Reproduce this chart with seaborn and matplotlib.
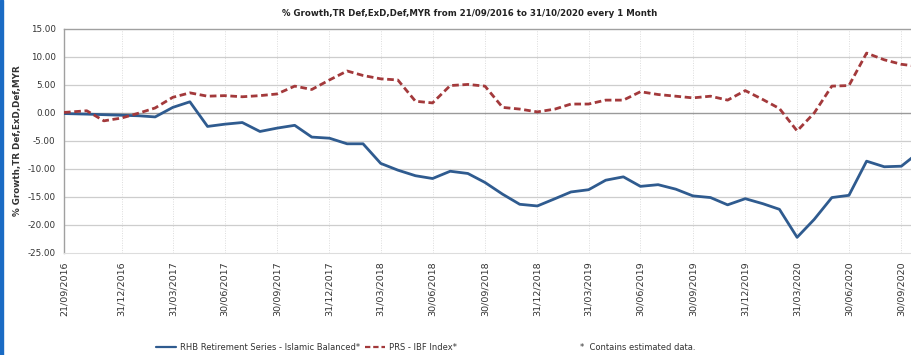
import numpy as np
import pandas as pd
import matplotlib
matplotlib.use("Agg")
import matplotlib.pyplot as plt
from matplotlib.lines import Line2D
from matplotlib.patches import Rectangle
from matplotlib.ticker import MultipleLocator
import seaborn as sns

# ---------------- data ----------------
start_date = "2016-09-21"
end_date = "2020-10-31"
dates = [pd.Timestamp(start_date)] + list(pd.date_range("2016-10-31", end_date, freq="ME"))

rhb_name = "RHB Retirement Series - Islamic Balanced*"
prs_name = "PRS - IBF Index*"

rhb = [-0.1, -0.2, -0.3, -0.4, -0.5, -0.7, 1.0, 2.0, -2.4, -2.0,
       -1.7, -3.3, -2.7, -2.2, -4.3, -4.5, -5.5, -5.5, -9.0, -10.2,
       -11.2, -11.7, -10.4, -10.8, -12.4, -14.5, -16.3, -16.6, -15.3, -14.1,
       -13.7, -12.0, -11.4, -13.1, -12.8, -13.6, -14.8, -15.1, -16.4, -15.3,
       -16.2, -17.2, -22.2, -19.0, -15.1, -14.7, -8.6, -9.6, -9.5, -7.0]

prs = [0.1, 0.4, -1.4, -0.9, 0.0, 0.9, 2.8, 3.6, 3.0, 3.1,
       2.9, 3.1, 3.4, 4.8, 4.2, 5.9, 7.5, 6.7, 6.1, 5.9,
       2.1, 1.8, 4.9, 5.1, 4.8, 1.0, 0.7, 0.2, 0.7, 1.6,
       1.6, 2.3, 2.3, 3.8, 3.3, 3.0, 2.7, 3.0, 2.3, 4.0,
       2.4, 0.8, -3.2, 0.0, 4.8, 4.9, 10.7, 9.5, 8.7, 8.3]

tick_dates = ["2016-09-21", "2016-12-31", "2017-03-31", "2017-06-30", "2017-09-30",
              "2017-12-31", "2018-03-31", "2018-06-30", "2018-09-30", "2018-12-31",
              "2019-03-31", "2019-06-30", "2019-09-30", "2019-12-31", "2020-03-31",
              "2020-06-30", "2020-09-30"]
y_ticks = [15, 10, 5, 0, -5, -10, -15, -20, -25]

title = "% Growth,TR Def,ExD,Def,MYR from 21/09/2016 to 31/10/2020 every 1 Month"
y_label = "% Growth,TR Def,ExD,Def,MYR"
note = "*  Contains estimated data."

df = pd.DataFrame({
    "date": dates * 2,
    "value": rhb + prs,
    "series": [rhb_name] * len(rhb) + [prs_name] * len(prs),
})

# ---------------- figure ----------------
sns.set_style("white")
plt.rcParams["font.family"] = ["DejaVu Sans"]

W, H = 912, 355
fig = plt.figure(figsize=(W / 100, H / 100), dpi=100)
ax = fig.add_axes([64 / W, 1 - 253 / H, (919 - 64) / W, 224 / H])

blue = "#2f5b8f"
red = "#a3393b"
sns.lineplot(data=df, x="date", y="value", hue="series", style="series",
             palette={rhb_name: blue, prs_name: red},
             dashes={rhb_name: "", prs_name: (2.4, 1.3)},
             linewidth=2.0, ax=ax, legend=False, zorder=3)

ax.set_xlim(pd.Timestamp(start_date), pd.Timestamp(end_date))
ax.set_ylim(-25, 15)

# ticks
tick_ts = [pd.Timestamp(d) for d in tick_dates]
ax.set_xticks(tick_ts)
ax.set_xticklabels([t.strftime("%d/%m/%Y") for t in tick_ts], rotation=90,
                   fontsize=6.8, color="#333333")
ax.set_yticks(y_ticks)
ax.set_yticklabels([f"{v:.2f}" for v in y_ticks], fontsize=6.3, color="#333333")
ax.yaxis.set_minor_locator(MultipleLocator(1))
ax.tick_params(axis="y", which="major", length=4, color="#999999", pad=2)
ax.tick_params(axis="y", which="minor", length=2, color="#bbbbbb")
ax.tick_params(axis="x", which="major", length=0, pad=6)

# grid
for t in tick_ts[1:]:
    ax.axvline(t, color="#dcdcdc", lw=0.7, ls=(0, (1, 1.5)), zorder=0)
for v in y_ticks:
    if v == 0:
        ax.axhline(v, color="#9a9a9a", lw=1.0, zorder=1)
    elif v not in (15, -25):
        ax.axhline(v, color="#cdcdcd", lw=0.9, zorder=0)

for side in ["top", "left"]:
    ax.spines[side].set_color("#a0a0a0")
    ax.spines[side].set_linewidth(1.0)
ax.spines["bottom"].set_color("#dddddd")
ax.spines["right"].set_visible(False)

ax.set_xlabel("")
ax.set_ylabel(y_label, fontsize=6.3, fontweight="bold", color="#333333", labelpad=4)

fig.text(470 / W, 1 - 13 / H, title, ha="center", va="center",
         fontsize=6.2, fontweight="bold", color="#222222")

# legend
handles = [Line2D([], [], color=blue, lw=1.6),
           Line2D([], [], color=red, lw=1.6, dashes=(2.4, 1.3))]
fig.legend(handles, [rhb_name, prs_name], loc="center left",
           bbox_to_anchor=(148 / W, 1 - 347 / H), ncol=2, frameon=False,
           fontsize=6, handlelength=2.4, handletextpad=0.5, columnspacing=0.6,
           labelcolor="#333333")
fig.text(580 / W, 1 - 347 / H, note, ha="left", va="center", fontsize=6,
         color="#333333")

# left border bar
fig.patches.append(Rectangle((0, 0), 3 / W, 1, transform=fig.transFigure,
                             color="#1a6bc4", zorder=10))

fig.savefig("out.png", dpi=100)
